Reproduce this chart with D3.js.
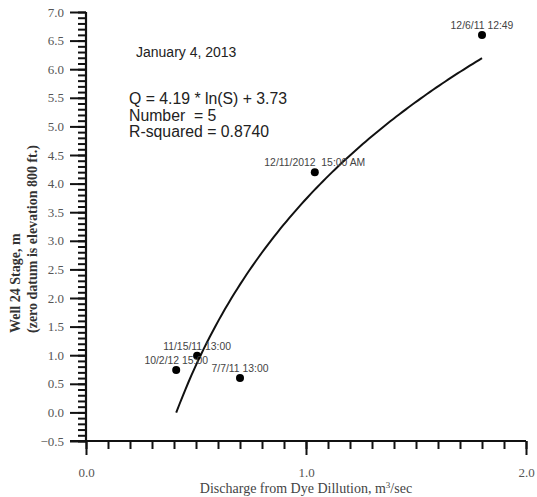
<!DOCTYPE html>
<html>
<head>
<meta charset="utf-8">
<script src="https://cdn.jsdelivr.net/npm/d3@7"></script>
<style>
  body { margin: 0; background: #fff; }
  svg { display: block; }
</style>
</head>
<body>
<svg id="chart"></svg>
<script>
const dischargeValues = [0.41, 0.505, 0.70, 1.04, 1.80];
const stageValues = [0.74, 0.99, 0.60, 4.20, 6.60];
const pointLabels = ['10/2/12 15:00', '11/15/11 13:00', '7/7/11 13:00', '12/11/2012  15:00 AM', '12/6/11 12:49'];

// fitted curve as printed on the chart
const fitSlope = 4.19;
const fitIntercept = 3.73;
const annotationLines = ['Q = 4.19 * ln(S) + 3.73', 'Number  = 5', 'R-squared = 0.8740'];

const xTickLabels = [0.0, 1.0, 2.0];
const yTickLabels = [-0.5, 0.0, 0.5, 1.0, 1.5, 2.0, 2.5, 3.0, 3.5, 4.0, 4.5, 5.0, 5.5, 6.0, 6.5, 7.0];

const width = 537, height = 497;
const svg = d3.select('#chart').attr('width', width).attr('height', height);

const x = d3.scaleLinear().domain([0, 2]).range([86, 526]);
const y = d3.scaleLinear().domain([-0.5, 7]).range([441, 12]);

const serif = '"Liberation Serif", "Times New Roman", serif';
const sans = '"Liberation Sans", Arial, sans-serif';

const x0 = x(0), yBase = y(-0.5);
const yMinor = d3.range(-5, 71).map(i => i / 10);
const xMinor = d3.range(0, 21).map(i => i / 10);

// tick marks drawn by d3 axes: minor first, then major with labels
const yMinorAxis = svg.append('g')
    .attr('class', 'y-minor')
    .attr('transform', `translate(${x0},0)`)
    .call(d3.axisLeft(y).tickValues(yMinor).tickSize(8).tickFormat(() => ''));
const xMinorAxis = svg.append('g')
    .attr('class', 'x-minor')
    .attr('transform', `translate(0,${yBase})`)
    .call(d3.axisBottom(x).tickValues(xMinor).tickSize(8).tickFormat(() => ''));
const yMajorAxis = svg.append('g')
    .attr('class', 'y-major')
    .attr('transform', `translate(${x0},0)`)
    .call(d3.axisLeft(y).tickValues(yTickLabels).tickSize(16).tickPadding(6).tickFormat(d3.format('.1f')));
const xMajorAxis = svg.append('g')
    .attr('class', 'x-major')
    .attr('transform', `translate(0,${yBase})`)
    .call(d3.axisBottom(x).tickValues(xTickLabels).tickSize(14).tickPadding(22).tickFormat(d3.format('.1f')));

[yMinorAxis, xMinorAxis, yMajorAxis, xMajorAxis].forEach(g => {
    g.select('.domain').remove();
    g.selectAll('.tick line').attr('stroke', '#111').style('stroke', '#111').style('stroke-width', '2px');
});
[yMajorAxis, xMajorAxis].forEach(g => {
    g.selectAll('.tick text')
        .attr('font-family', serif).attr('font-size', 13).attr('fill', '#555');
});
xMajorAxis.selectAll('.tick text').attr('dy', 0);

// spines
const spinePath = d3.path();
spinePath.moveTo(x0, y(7)); spinePath.lineTo(x0, yBase);
spinePath.moveTo(x0 - 16, yBase); spinePath.lineTo(x(2), yBase);
svg.append('path')
    .attr('d', spinePath.toString())
    .attr('fill', 'none')
    .attr('stroke', '#111')
    .attr('stroke-width', 2.2);

// axis titles
svg.append('text')
    .attr('x', x(1)).attr('y', 493)
    .attr('text-anchor', 'middle')
    .attr('font-family', serif).attr('font-size', 14).attr('fill', '#444')
    .html('Discharge from Dye Dillution, m<tspan font-size="9" dy="-5">3</tspan><tspan dy="5">/sec</tspan>');

const yTitle = svg.append('text')
    .attr('transform', 'translate(0,333) rotate(-90)')
    .attr('font-family', serif).attr('font-size', 14).attr('font-weight', 'bold').attr('fill', '#333');
yTitle.append('tspan').attr('x', 0).attr('y', 20).text('Well 24 Stage, m');
yTitle.append('tspan').attr('x', 0).attr('y', 37).text('(zero datum is elevation 800 ft.)');

// fit curve
const qMin = d3.min(dischargeValues), qMax = d3.max(dischargeValues);
const fitX = d3.range(0, 101).map(i => qMin + i * (qMax - qMin) / 100);
const line = d3.line()
    .x(d => x(d))
    .y(d => y(fitSlope * Math.log(d) + fitIntercept));
svg.append('path')
    .datum(fitX)
    .attr('d', line)
    .attr('fill', 'none')
    .attr('stroke', '#111')
    .attr('stroke-width', 2);

// points
const pts = dischargeValues.map((d, i) => ({ q: d, s: stageValues[i], label: pointLabels[i] }));
svg.selectAll('circle.pt')
    .data(pts)
    .join('circle')
    .attr('class', 'pt')
    .attr('cx', d => x(d.q))
    .attr('cy', d => y(d.s))
    .attr('r', 4)
    .attr('fill', '#000');

svg.selectAll('text.pt-label')
    .data(pts)
    .join('text')
    .attr('class', 'pt-label')
    .attr('x', d => x(d.q))
    .attr('y', d => y(d.s) - 6)
    .attr('text-anchor', 'middle')
    .attr('font-family', sans).attr('font-size', 10.4).attr('fill', '#444')
    .style('white-space', 'pre')
    .text(d => d.label);

// annotation
svg.append('text')
    .attr('x', 136).attr('y', 57)
    .attr('font-family', sans).attr('font-size', 14).attr('fill', '#222')
    .text('January 4, 2013');

svg.selectAll('text.note')
    .data(annotationLines)
    .join('text')
    .attr('class', 'note')
    .attr('x', 129)
    .attr('y', (d, i) => 104 + i * 16.5)
    .attr('font-family', sans).attr('font-size', 15.8).attr('fill', '#222')
    .style('white-space', 'pre')
    .text(d => d);
</script>
</body>
</html>
